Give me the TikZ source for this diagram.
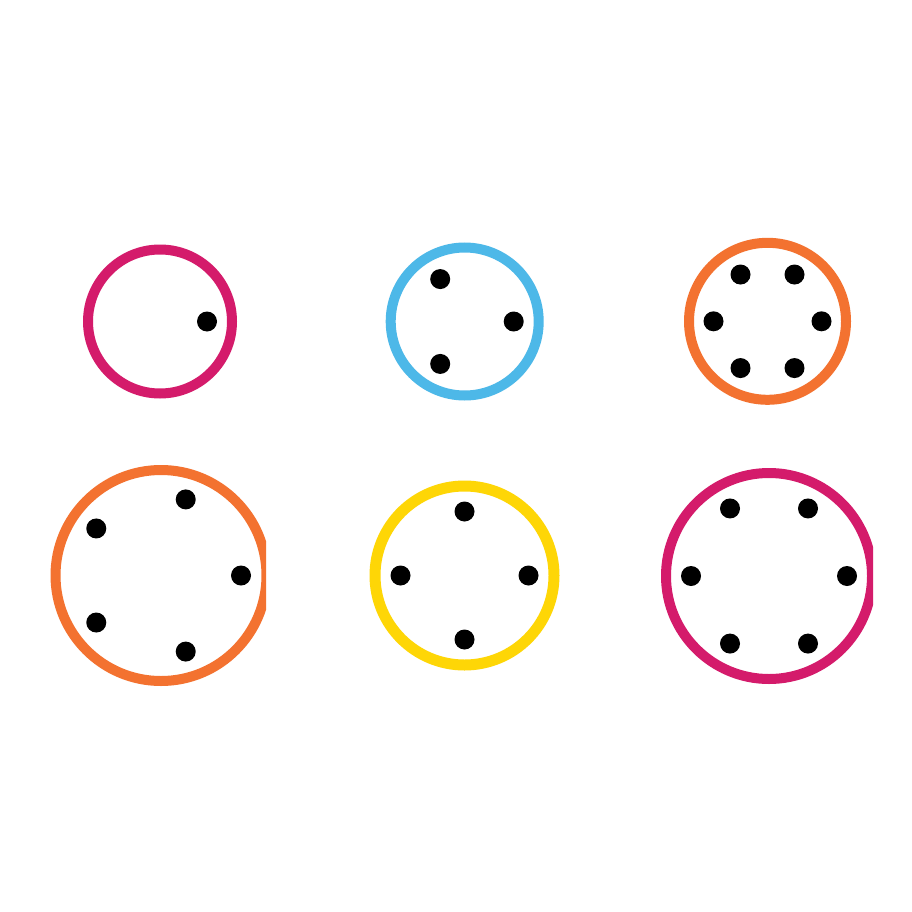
\documentclass[tikz,border=0pt]{standalone}
\usepackage{tikz}
\usetikzlibrary{calc}
\usepackage{xcolor}
\definecolor{ringMagenta}{HTML}{D41B6B}
\definecolor{ringBlue}{HTML}{4DB8E8}
\definecolor{ringOrange}{HTML}{F37230}
\definecolor{ringYellow}{HTML}{FED606}

\begin{document}
\begin{tikzpicture}[x=0.02cm, y=-0.02cm,
    ring/.style={line width=0.2cm},
    pin/.style={fill=black}]
        \fill[white] (0,0) rectangle (912,912);
        \useasboundingbox (0,0) rectangle (912,912);
        % top row
        \coordinate (ringA) at (160,321.5);
        \coordinate (ringB) at (464.7,321.5);
        \coordinate (ringC) at (767.5,321.3);
        \draw[ring, draw=ringMagenta] (ringA) circle (72);
        \fill[pin] ($(ringA)+(47,0)$) circle (10);
        \draw[ring, draw=ringBlue] (ringB) circle (74);
        \foreach \a in {0,120,240}
          \fill[pin] ($(ringB)+(\a:49)$) circle (10);
        \draw[ring, draw=ringOrange] (ringC) circle (78.5);
        \foreach \a in {0,60,...,300}
          \fill[pin] ($(ringC)+(\a:54)$) circle (10);
        % bottom row
        \coordinate (ringD) at (161,575.5);
        \coordinate (ringE) at (464.5,575.5);
        \coordinate (ringF) at (769,576);
        \begin{scope}
          \clip (0,400) rectangle (266,912);
          \draw[ring, draw=ringOrange] (ringD) circle (105.5);
        \end{scope}
        \foreach \a in {0,72,...,288}
          \fill[pin] ($(ringD)+(\a:80)$) circle (10);
        \draw[ring, draw=ringYellow, line width=0.22cm] (ringE) circle (89.5);
        \foreach \a in {0,90,180,270}
          \fill[pin] ($(ringE)+(\a:64)$) circle (10);
        \begin{scope}
          \clip (600,400) rectangle (873,912);
          \draw[ring, draw=ringMagenta] (ringF) circle (103);
        \end{scope}
        \foreach \a in {0,60,...,300}
          \fill[pin] ($(ringF)+(\a:78)$) circle (10);
      \end{tikzpicture}
\end{document}
